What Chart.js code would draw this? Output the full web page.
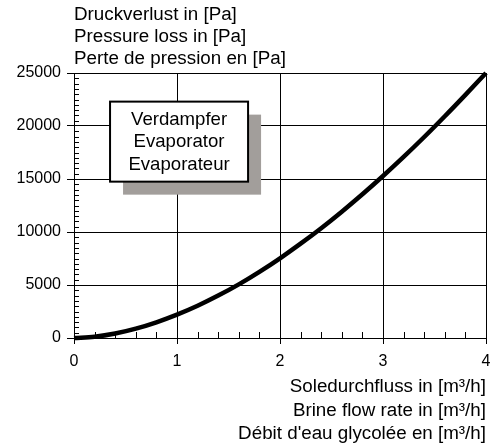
<!DOCTYPE html>
<html>
<head>
<meta charset="utf-8">
<script src="https://cdn.jsdelivr.net/npm/chart.js@4.4.1/dist/chart.umd.min.js"></script>
<style>
  html, body { margin: 0; padding: 0; background: #fff; }
  #wrap { width: 495px; height: 445px; }
</style>
</head>
<body>
<div id="wrap"><canvas id="chart" width="495" height="445"></canvas></div>
<script>
// flow rate in m3/h
const flow = [0, 0.2, 0.4, 0.6, 0.8, 1.0, 1.2, 1.4, 1.6, 1.8, 2.0, 2.2, 2.4, 2.6, 2.8, 3.0, 3.2, 3.4, 3.6, 3.8, 4.0];
// pressure loss in Pa
const loss = [0, 120, 420, 880, 1480, 2200, 3040, 4000, 5060, 6240, 7520, 8900, 10360, 11920, 13560, 15280, 17080, 18960, 20920, 22940, 25000];

const yTitle = ['Druckverlust in [Pa]', 'Pressure loss in [Pa]', 'Perte de pression en [Pa]'];
const xTitle = ['Soledurchfluss in [m³/h]', 'Brine flow rate in [m³/h]', "Débit d'eau glycolée en [m³/h]"];
const boxText = ['Verdampfer', 'Evaporator', 'Evaporateur'];

const FONT = '"Liberation Sans", Arial, Helvetica, sans-serif';

const extras = {
  id: 'extras',
  afterDraw(chart) {
    const ctx = chart.ctx;
    const xs = chart.scales.x, ys = chart.scales.y;
    const area = chart.chartArea;
    ctx.save();

    // minor ticks
    ctx.strokeStyle = '#000';
    ctx.lineWidth = 1;
    ctx.beginPath();
    for (let v = 500; v < 25000; v += 500) {
      if (v % 5000 === 0) continue;
      const py = Math.round(ys.getPixelForValue(v)) + 0.5;
      ctx.moveTo(area.left, py);
      ctx.lineTo(area.left + 5, py);
    }
    for (let v = 0.2; v < 4; v += 0.2) {
      const r = Math.round(v * 10);
      if (r % 10 === 0) continue;
      const px = Math.round(xs.getPixelForValue(r / 10)) + 0.5;
      ctx.moveTo(px, area.bottom);
      ctx.lineTo(px, area.bottom - 6);
    }
    ctx.stroke();

    // label box with shadow
    const bx1 = xs.getPixelForValue(0.35), bx2 = xs.getPixelForValue(1.69);
    const by1 = ys.getPixelForValue(22300), by2 = ys.getPixelForValue(14750);
    ctx.fillStyle = '#a29e9b';
    ctx.fillRect(bx1 + 13, by1 + 13, bx2 - bx1, by2 - by1);
    ctx.fillStyle = '#fff';
    ctx.fillRect(bx1, by1, bx2 - bx1, by2 - by1);
    ctx.lineWidth = 2;
    ctx.strokeRect(bx1, by1, bx2 - bx1, by2 - by1);

    ctx.fillStyle = '#000';
    ctx.font = '18.6px ' + FONT;
    ctx.textAlign = 'center';
    ctx.textBaseline = 'alphabetic';
    const cx = (bx1 + bx2) / 2;
    boxText.forEach((t, i) => ctx.fillText(t, cx, by1 + 23 + i * 22.5));

    // axis titles
    ctx.font = '18.8px ' + FONT;
    ctx.textAlign = 'left';
    yTitle.forEach((t, i) => ctx.fillText(t, area.left, 20 + i * 22));
    ctx.textAlign = 'right';
    xTitle.forEach((t, i) => ctx.fillText(t, area.right, 392 + i * 23.5));
    ctx.restore();
  }
};

new Chart(document.getElementById('chart'), {
  type: 'scatter',
  data: {
    datasets: [{
      data: flow.map((x, i) => ({ x: x, y: loss[i] })),
      showLine: true,
      borderColor: '#000',
      borderWidth: 4.5,
      pointRadius: 0,
      cubicInterpolationMode: 'monotone',
      clip: false
    }]
  },
  options: {
    responsive: false,
    animation: false,
    layout: { padding: { left: 0, top: 73, right: 0, bottom: 0 } },
    plugins: { legend: { display: false }, tooltip: { enabled: false } },
    scales: {
      x: {
        type: 'linear', min: 0, max: 4,
        afterFit: (s) => { s.height = 107; s.paddingRight = 9; },
        ticks: { stepSize: 1, color: '#000', font: { family: FONT, size: 16 }, padding: 8, maxRotation: 0 },
        grid: { color: '#000', lineWidth: 1, tickLength: 6 },
        border: { color: '#000', width: 1 }
      },
      y: {
        min: 0, max: 25000,
        afterFit: (s) => { s.width = 74; },
        ticks: { stepSize: 5000, color: '#000', font: { family: FONT, size: 16 }, padding: 6,
                 callback: (v) => String(v) },
        grid: { color: '#000', lineWidth: 1, tickLength: 7 },
        border: { color: '#000', width: 1 }
      }
    }
  },
  plugins: [extras]
});
</script>
</body>
</html>
